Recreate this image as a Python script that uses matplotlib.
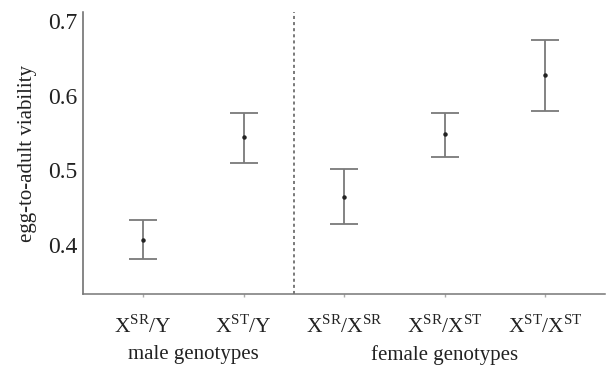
import numpy as np
import matplotlib.pyplot as plt

plt.rcParams['font.family'] = 'Liberation Serif'
plt.rcParams['mathtext.fontset'] = 'custom'
plt.rcParams['mathtext.rm'] = 'Liberation Serif'

genotypes = [r'X$^{\mathrm{SR}}$/Y', r'X$^{\mathrm{ST}}$/Y',
             r'X$^{\mathrm{SR}}$/X$^{\mathrm{SR}}$', r'X$^{\mathrm{SR}}$/X$^{\mathrm{ST}}$',
             r'X$^{\mathrm{ST}}$/X$^{\mathrm{ST}}$']
means = [0.407, 0.544, 0.464, 0.548, 0.628]
upper = [0.433, 0.577, 0.502, 0.577, 0.675]
lower = [0.381, 0.509, 0.428, 0.518, 0.580]

x = np.arange(1, len(means) + 1)
means = np.array(means)
yerr = [means - np.array(lower), np.array(upper) - means]

fig = plt.figure(figsize=(6.06, 3.67), dpi=100)
ax = fig.add_axes([0.137, 0.199, 0.862, 0.768])

ax.errorbar(x, means, yerr=yerr, fmt='o', color='#222222', markersize=2.2,
            ecolor='#7a7a7a', elinewidth=1.3, capsize=10, capthick=1.3)
ax.axvline(2.5, color='#555555', linestyle=(0, (2, 2)), linewidth=1.1)

ax.set_xlim(0.4, 5.6)
ax.set_ylim(0.334, 0.712)
ax.set_yticks([0.4, 0.5, 0.6, 0.7])
ax.set_yticklabels(['0.4', '0.5', '0.6', '0.7'])
ax.set_xticks(x)
ax.set_xticklabels(genotypes)
ax.tick_params(axis='y', labelsize=17, colors='#222222', length=0, pad=4)
ax.tick_params(axis='x', labelsize=15.5, colors='#222222', color='#aaaaaa',
               length=2, width=1, pad=13)

for s in ['top', 'right']:
    ax.spines[s].set_visible(False)
ax.spines['left'].set_color('#666666')
ax.spines['bottom'].set_color('#777777')
ax.spines['left'].set_linewidth(1.1)
ax.spines['bottom'].set_linewidth(1.1)

ax.set_ylabel('egg-to-adult viability', fontsize=15, color='#222222', labelpad=8)

ax.text(1.5, -0.215, 'male genotypes', transform=ax.get_xaxis_transform(),
        ha='center', va='center', fontsize=15, color='#222222')
ax.text(4.0, -0.215, 'female genotypes', transform=ax.get_xaxis_transform(),
        ha='center', va='center', fontsize=15, color='#222222')

fig.savefig('out.png', dpi=100)
